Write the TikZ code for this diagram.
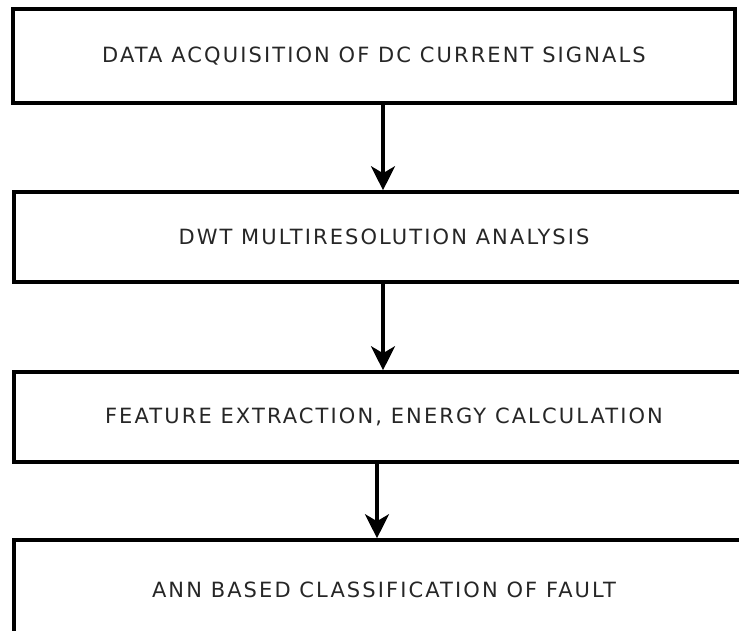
\documentclass[tikz,border=0pt]{standalone}
\usepackage{fontspec}
\setmainfont{DejaVu Sans}[LetterSpace=10]
\usetikzlibrary{arrows.meta}

\begin{document}
\begin{tikzpicture}[x=1pt, y=-1pt,
    stagebox/.style={draw, line width=3.6pt, minimum height=90pt, inner sep=0pt,
        font=\fontsize{21}{25}\selectfont, text=black!85},
    flowarrow/.style={line width=3.4pt, -{Stealth[length=24pt, width=24pt, inset=7pt]}}]
        % Page size
        \useasboundingbox (0,0) rectangle (739,630);
        \clip (0,0) rectangle (739,630);

        % Stages
        \node[stagebox, minimum width=722pt, minimum height=94pt] (acq) at (374,56) {DATA ACQUISITION OF DC CURRENT SIGNALS};
        \node[stagebox, minimum width=740pt] (dwt) at (384,237) {DWT MULTIRESOLUTION ANALYSIS};
        \node[stagebox, minimum width=740pt] (feat) at (384,417) {FEATURE EXTRACTION, ENERGY CALCULATION};
        \node[stagebox, minimum width=740pt, minimum height=100pt] (ann) at (384,590) {ANN BASED CLASSIFICATION OF FAULT};

        % Arrows
        \draw[flowarrow] ([xshift=9pt]acq.south) -- ([xshift=9pt]acq.south |- dwt.north);
        \draw[flowarrow] ([xshift=-1pt]dwt.south) -- ([xshift=-1pt]dwt.north |- feat.north);
        \draw[flowarrow] ([xshift=-7pt]feat.south) -- ([xshift=-7pt]feat.south |- ann.north);
    \end{tikzpicture}
\end{document}
